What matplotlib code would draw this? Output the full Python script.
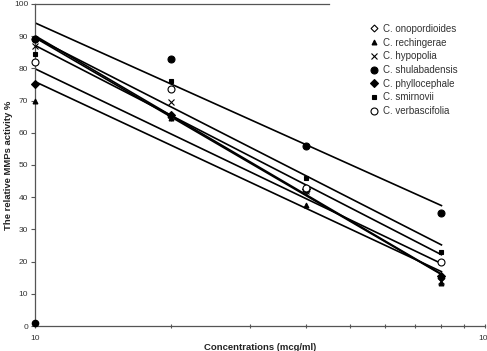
import numpy as np
import matplotlib
matplotlib.use("Agg")
import matplotlib.pyplot as plt
from matplotlib.ticker import LogLocator, FixedLocator, NullFormatter

plt.rcParams['font.family'] = ['Liberation Sans', 'DejaVu Sans']

# ---- data ----
conc = [10, 20, 40, 80]

species = ['C. onopordioides', 'C. rechingerae', 'C. hypopolia',
           'C. shulabadensis', 'C. phyllocephale', 'C. smirnovii',
           'C. verbascifolia']

onopordioides = [89, 65, 42, 15]
rechingerae = [70, 64.5, 37.5, 13.5]
hypopolia = [87, 69.5, 42, 14]
shulabadensis = [89, 83, 56, 35]
phyllocephale = [75, 65.5, 42.5, 15.5]
smirnovii = [84.5, 76, 46, 23]
verbascifolia = [82, 73.5, 43, 20]

# lone point sitting on the origin
stray_x = [10]
stray_y = [1]

# short rule along the top edge
top_rule_x = [10, 45]
top_rule_y = [100, 100]

series = [onopordioides, rechingerae, hypopolia, shulabadensis,
          phyllocephale, smirnovii, verbascifolia]

# marker, face colour, size
styles = [('D', 'white', 3.5),
          ('^', 'black', 3.5),
          ('x', 'none', 5),
          ('o', 'black', 5),
          ('D', 'black', 4),
          ('s', 'black', 3.5),
          ('o', 'white', 5)]

fig = plt.figure(figsize=(4.87, 3.51), dpi=100)
ax = fig.add_axes([0.072, 0.071, 0.924, 0.918])

# log trend lines, one per species
xs = np.log10(conc)
for ys in series:
    b, a = np.polyfit(xs, ys, 1)
    xl = np.array([conc[0], conc[-1]])
    ax.plot(xl, a + b * np.log10(xl), color='black', lw=1.2, zorder=2)

for name, ys, (m, fc, ms) in zip(species, series, styles):
    ax.plot(conc, ys, linestyle='none', marker=m, markersize=ms,
            markerfacecolor=fc, markeredgecolor='black',
            markeredgewidth=0.8, label=name, zorder=3, clip_on=False)

ax.plot(stray_x, stray_y, linestyle='none', marker='o', markersize=4.5,
        color='black', clip_on=False, zorder=4)
ax.plot(top_rule_x, top_rule_y, color='#555555', lw=0.9, clip_on=False)

ax.set_xscale('log')
ax.set_xlim(10, 100)
ax.set_ylim(0, 100)
ax.xaxis.set_major_locator(FixedLocator([10, 100]))
ax.xaxis.set_minor_locator(LogLocator(base=10, subs=np.arange(2, 10)))
ax.xaxis.set_minor_formatter(NullFormatter())
ax.set_xticklabels(['10', '100'])
ax.set_yticks(np.arange(0, 101, 10))

for s in ['top', 'right']:
    ax.spines[s].set_visible(False)
for s in ['left', 'bottom']:
    ax.spines[s].set_color('#555555')
    ax.spines[s].set_linewidth(0.9)

ax.tick_params(axis='both', which='both', colors='#555555', labelsize=6,
               labelcolor='#333333', width=0.8)
ax.tick_params(axis='y', which='major', direction='out', length=3, pad=2)
ax.tick_params(axis='x', which='both', direction='inout', length=3, pad=5)

ax.set_xlabel('Concentrations (mcg/ml)', fontsize=6.8, fontweight='bold',
              color='#222222')
ax.xaxis.set_label_coords(0.5, -0.053)
ax.set_ylabel('The relative MMPs activity %', fontsize=6.8,
              fontweight='bold', color='#222222')
ax.yaxis.set_label_coords(-0.05, 0.5)

ax.legend(loc='upper left', bbox_to_anchor=(0.735, 0.95), frameon=False,
          fontsize=7, handlelength=0.8, handletextpad=0.55,
          labelspacing=0.38, borderaxespad=0, labelcolor='#333333')

fig.savefig('out.png', dpi=100)
